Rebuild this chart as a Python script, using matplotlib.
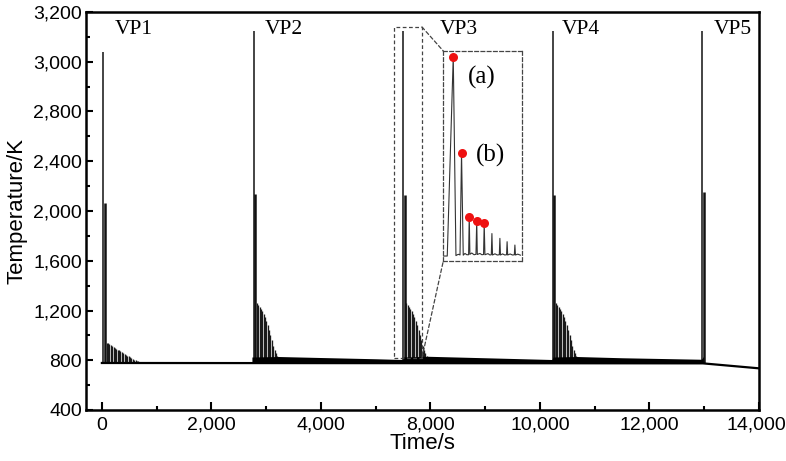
import numpy as np
import matplotlib
matplotlib.use('Agg')
import matplotlib.pyplot as plt
from matplotlib.patches import Rectangle, ConnectionPatch
from matplotlib.transforms import ScaledTranslation

# --- data ---
vp_labels = ['VP1', 'VP2', 'VP3', 'VP4', 'VP5']
vp_times = [29, 2769, 5498, 8230, 10959]          # s
vp_peak = [3040, 3124, 3124, 3124, 3124]          # K, first (highest) spike
vp_second = [2064, 2136, 2128, 2128, 2152]        # K, second spike
second_delay = 30                                 # s after the first spike

# decaying spike train after VP1, one value per pulse
vp1_decay = [940, 938, 932, 925, 918, 910, 898, 893, 886, 880, 872, 866, 860,
             852, 845, 838, 831, 825, 818, 811, 804, 799, 794, 790, 787, 784]
# decaying spike train after VP2, VP3, VP4
vp_decay = [1258, 1245, 1230, 1210, 1192, 1172, 1145, 1118, 1085, 1042, 1005,
            960, 912, 880, 855, 838]
pulse_interval = 25                               # s
decay_start = 60                                  # s after the first spike

base_temp = 778
base_times = [0, 10975, 12000]
base_temps = [778, 775, 735]

# band of small pulses between VP2 and VP5
band_times = [2740, 3230, 4000, 5000, 5490, 5510, 5950, 7000, 8220, 8240, 8680,
              9500, 10950, 10985]
band_top = [826, 830, 822, 812, 806, 826, 832, 820, 806, 826, 830, 820, 808, 830]

# zoomed view of VP3 (inset)
inset_t = [-28, -17.6, -1.8, 5.3, 9, 13, 16, 20, 24.5, 29, 34, 38.6, 40.3, 42, 47,
           53, 58, 60, 61.5, 68.4, 73.7, 78, 79.7, 81.6, 89.5, 94.7, 98.4, 100,
           101.6, 108, 114, 119.5, 121, 122.5, 128, 134, 138.5, 140, 141.5, 148,
           154, 159, 160.5, 162, 168, 175]
inset_temp = [800, 800, 3125, 805, 815, 820, 812, 1998, 810, 830, 815, 815, 1259,
              820, 835, 815, 820, 1212, 818, 830, 815, 818, 1181, 815, 828, 812,
              815, 1062, 812, 826, 812, 815, 1006, 812, 825, 812, 815, 967, 812,
              824, 812, 814, 928, 812, 822, 810]
dot_t = [-1.8, 20, 40.3, 60, 79.7]
dot_temp = [3125, 1998, 1259, 1212, 1181]

x_ticks = [0, 2000, 4000, 6000, 8000, 10000, 12000]
x_tick_labels = ['0', '2,000', '4,000', '8,000', '10,000', '12,000', '14,000']
x_minor = [1000, 3000, 5000, 7000, 9000, 11000]
y_ticks = [400, 800, 1200, 1600, 2000, 2400, 2800, 3000, 3200]
y_minor = [600, 1000, 1400, 1800, 2200, 2600, 2900, 3100]

plt.rcParams['font.family'] = ['Liberation Sans', 'DejaVu Sans']
serif = ['Liberation Serif', 'DejaVu Serif']


# y axis is stretched above 2,800 K
def fwd(y):
    y = np.asarray(y, dtype=float)
    return np.where(y <= 2800, y, 2800 + 2 * (y - 2800))


def inv(u):
    u = np.asarray(u, dtype=float)
    return np.where(u <= 2800, u, 2800 + (u - 2800) / 2)


fig = plt.figure(figsize=(7.86, 4.61), dpi=100)
ax = fig.add_axes([86 / 786, 1 - 410 / 461, 673 / 786, 398 / 461])
ax.set_yscale('function', functions=(fwd, inv))

# baseline and pulse band
ax.plot(base_times, base_temps, color='black', lw=1.6, zorder=3)
ax.fill_between(band_times, base_temp, band_top, color='black', lw=0, zorder=3)

# main spikes
vp_t = np.array(vp_times)
ax.vlines(vp_t, base_temp, vp_peak, color='#111111', lw=1.1, zorder=2)
ax.vlines(vp_t + second_delay, base_temp, vp_second, color='#111111', lw=1.8, zorder=2)

# decay trains
t1 = vp_t[0] + decay_start + pulse_interval * np.arange(len(vp1_decay))
ax.vlines(t1, base_temp, vp1_decay, color='#1a1a1a', lw=0.95, zorder=2)
for t0 in vp_t[1:4]:
    tt = t0 + decay_start + pulse_interval * np.arange(len(vp_decay))
    ax.vlines(tt, base_temp, vp_decay, color='#1a1a1a', lw=0.95, zorder=2)

ax.set_xlim(-290, 12000)
ax.set_ylim(400, 3200)
ax.set_xticks(x_ticks)
ax.set_xticklabels(x_tick_labels)
ax.set_xticks(x_minor, minor=True)
ax.set_yticks(y_ticks)
ax.set_yticklabels([f'{v:,}' for v in y_ticks])
ax.set_yticks(y_minor, minor=True)
ax.tick_params(which='both', direction='in', width=1.5, labelsize=14, colors='black')
ax.tick_params(axis='x', which='major', length=6, pad=5)
ax.tick_params(axis='y', which='major', length=5, pad=3)
ax.tick_params(which='minor', length=3)
for sp in ax.spines.values():
    sp.set_linewidth(1.8)

# keep the last x label inside the figure
last = ax.get_xticklabels()[-1]
last.set_transform(last.get_transform() + ScaledTranslation(-3 / 100, 0, fig.dpi_scale_trans))

ax.set_xlabel('Time/s', fontsize=16, labelpad=-1)
ax.set_ylabel('Temperature/K', fontsize=16, labelpad=4)

label_x = [243, 2983, 6179, 8402, 11171]
for lab, x in zip(vp_labels, label_x):
    ax.text(x, 3130, lab, fontsize=15.5, family=serif, ha='left', va='center')

# dashed box around VP3 and the zoomed inset
dash = (0, (3, 2))
ax.add_patch(Rectangle((5326, 818), 5845 - 5326, 3140 - 818, fill=False,
                       ec='#444444', lw=0.9, ls=dash, zorder=4))

ins = fig.add_axes([443.3 / 786, 1 - 261 / 461, 79 / 786, 210 / 461])
ins.plot(inset_t, inset_temp, color='#333333', lw=0.8)
ins.plot(dot_t, dot_temp, 'o', color='#ee1111', ms=6.5, mec='none')
ins.set_xlim(-28, 180)
ins.set_ylim(742, 3191)
ins.set_xticks([])
ins.set_yticks([])
for sp in ins.spines.values():
    sp.set_linestyle(dash)
    sp.set_linewidth(0.9)
    sp.set_edgecolor('#444444')
ins.text(37.6, 2880, '(a)', fontsize=18, family=serif, ha='left', va='center')
ins.text(57.9, 1978, '(b)', fontsize=18, family=serif, ha='left', va='center')

for ya, yb in [(3140, 1), (818, 0)]:
    con = ConnectionPatch(xyA=(5845, ya), coordsA=ax.transData, xyB=(0, yb),
                          coordsB=ins.transAxes, color='#444444', lw=0.9, ls=dash)
    fig.add_artist(con)

fig.savefig('out.png', dpi=100)
